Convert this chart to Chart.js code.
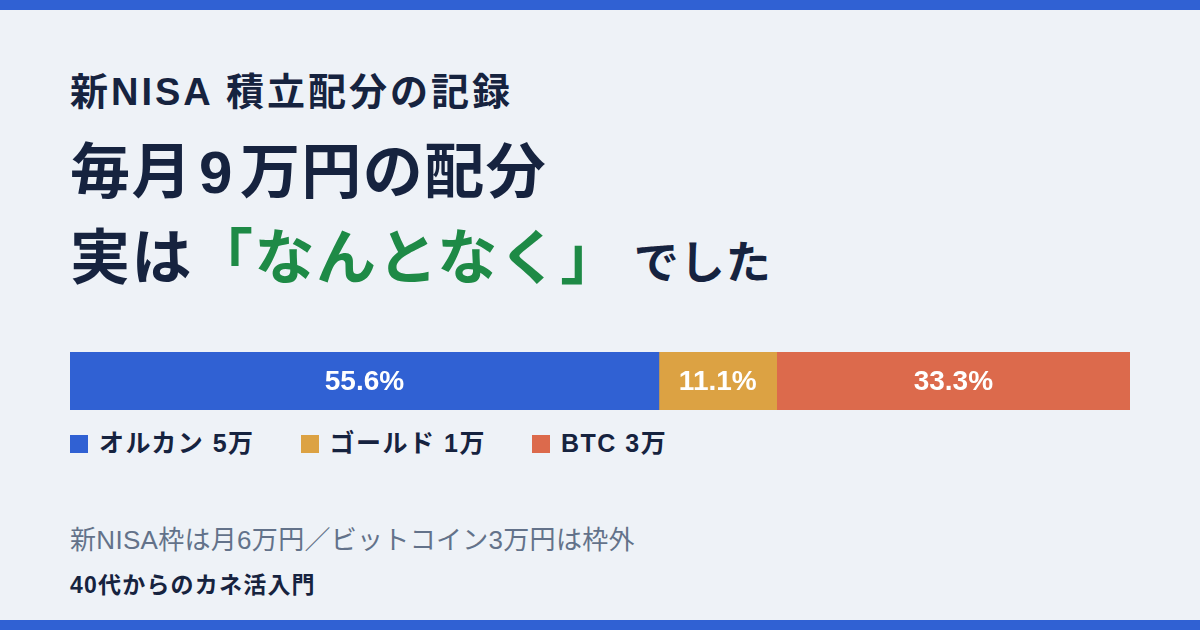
<!DOCTYPE html>
<html lang="ja">
<head>
<meta charset="utf-8">
<script src="https://cdn.jsdelivr.net/npm/chart.js@4"></script>
<style>
  html, body { margin: 0; padding: 0; }
  body {
    width: 1200px; height: 630px; position: relative; overflow: hidden;
    background: #eef2f7;
    font-family: "Liberation Sans", "Noto Sans CJK JP", sans-serif;
    color: #16233f;
  }
  .band { position: absolute; left: 0; width: 1200px; height: 10px; background: #3061d3; }
  .txt { position: absolute; left: 70px; line-height: 1; white-space: nowrap; }
  #kicker { top: 73px; font-size: 38px; font-weight: 700; letter-spacing: 3px; }
  #head1 { top: 143px; font-size: 60px; font-weight: 700; letter-spacing: 1.5px; }
  #head1 .num { margin: 0 6px; }
  #head2 { top: 229px; font-size: 60px; font-weight: 700; letter-spacing: 1.5px; }
  #head2 .em { color: #1e8a46; }
  #head2 .small { font-size: 45px; margin-left: 12px; letter-spacing: 1px; }
  #chartBox { position: absolute; left: 70px; top: 352px; width: 1060px; height: 58px; }
  #legend { position: absolute; left: 70px; top: 431px; display: flex; font-size: 25px; font-weight: 700; line-height: 1; letter-spacing: 1.5px; }
  #legend .item { display: flex; align-items: center; margin-right: 46px; }
  #legend .sw { width: 18px; height: 18px; margin-right: 11px; }
  #note { top: 527px; font-size: 26px; color: #63728a; letter-spacing: 0.3px; }
  #brand { top: 574px; font-size: 23px; font-weight: 700; letter-spacing: 1.2px; }
</style>
</head>
<body>
<div class="band" style="top:0"></div>
<div class="band" style="top:620px"></div>

<div class="txt" id="kicker">新NISA 積立配分の記録</div>
<div class="txt" id="head1">毎月<span class="num">9</span>万円の配分</div>
<div class="txt" id="head2">実は<span class="em">「なんとなく」</span><span class="small">でした</span></div>

<div id="chartBox"><canvas id="bar_chart"></canvas></div>
<div id="legend"></div>

<div class="txt" id="note">新NISA枠は月6万円／ビットコイン3万円は枠外</div>
<div class="txt" id="brand">40代からのカネ活入門</div>

<script>
  // Monthly amounts (万円)
  const funds = ["オルカン", "ゴールド", "BTC"];
  const amounts = [5, 1, 3];
  const colors = ['#3061d3', '#dca243', '#dc6a4c'];

  const total = amounts.reduce((a, b) => a + b, 0);

  // Legend
  const legend = document.getElementById('legend');
  for (let i = 0; i < funds.length; i++) {
    const item = document.createElement('div');
    item.className = 'item';
    item.innerHTML = '<span class="sw" style="background:' + colors[i] + '"></span>' +
      funds[i] + ' ' + amounts[i] + '万';
    legend.appendChild(item);
  }

  // Percent labels in the middle of each segment
  const percentLabels = {
    id: 'percentLabels',
    afterDatasetsDraw(chart) {
      const ctx = chart.ctx;
      ctx.save();
      ctx.fillStyle = '#ffffff';
      ctx.font = '700 28px "Liberation Sans", "Noto Sans CJK JP", sans-serif';
      ctx.textAlign = 'center';
      ctx.textBaseline = 'middle';
      chart.data.datasets.forEach((ds, i) => {
        const bar = chart.getDatasetMeta(i).data[0];
        const pct = (ds.data[0] / total * 100).toFixed(1) + '%';
        const cx = (bar.x + bar.base) / 2;
        ctx.fillText(pct, cx, bar.y + 1);
      });
      ctx.restore();
    }
  };

  const datasets = [];
  for (let i = 0; i < funds.length; i++) {
    datasets.push({
      label: funds[i],
      data: [amounts[i]],
      backgroundColor: colors[i],
      borderWidth: 0,
      barPercentage: 1,
      categoryPercentage: 1,
    });
  }

  const ctx = document.getElementById('bar_chart').getContext('2d');
  new Chart(ctx, {
    type: 'bar',
    data: { labels: ['配分'], datasets: datasets },
    options: {
      indexAxis: 'y',
      responsive: true,
      maintainAspectRatio: false,
      animation: false,
      layout: { padding: 0 },
      plugins: { legend: { display: false }, tooltip: { enabled: false } },
      scales: {
        x: { stacked: true, min: 0, max: total, display: false },
        y: { stacked: true, display: false },
      },
    },
    plugins: [percentLabels],
  });
</script>
</body>
</html>
